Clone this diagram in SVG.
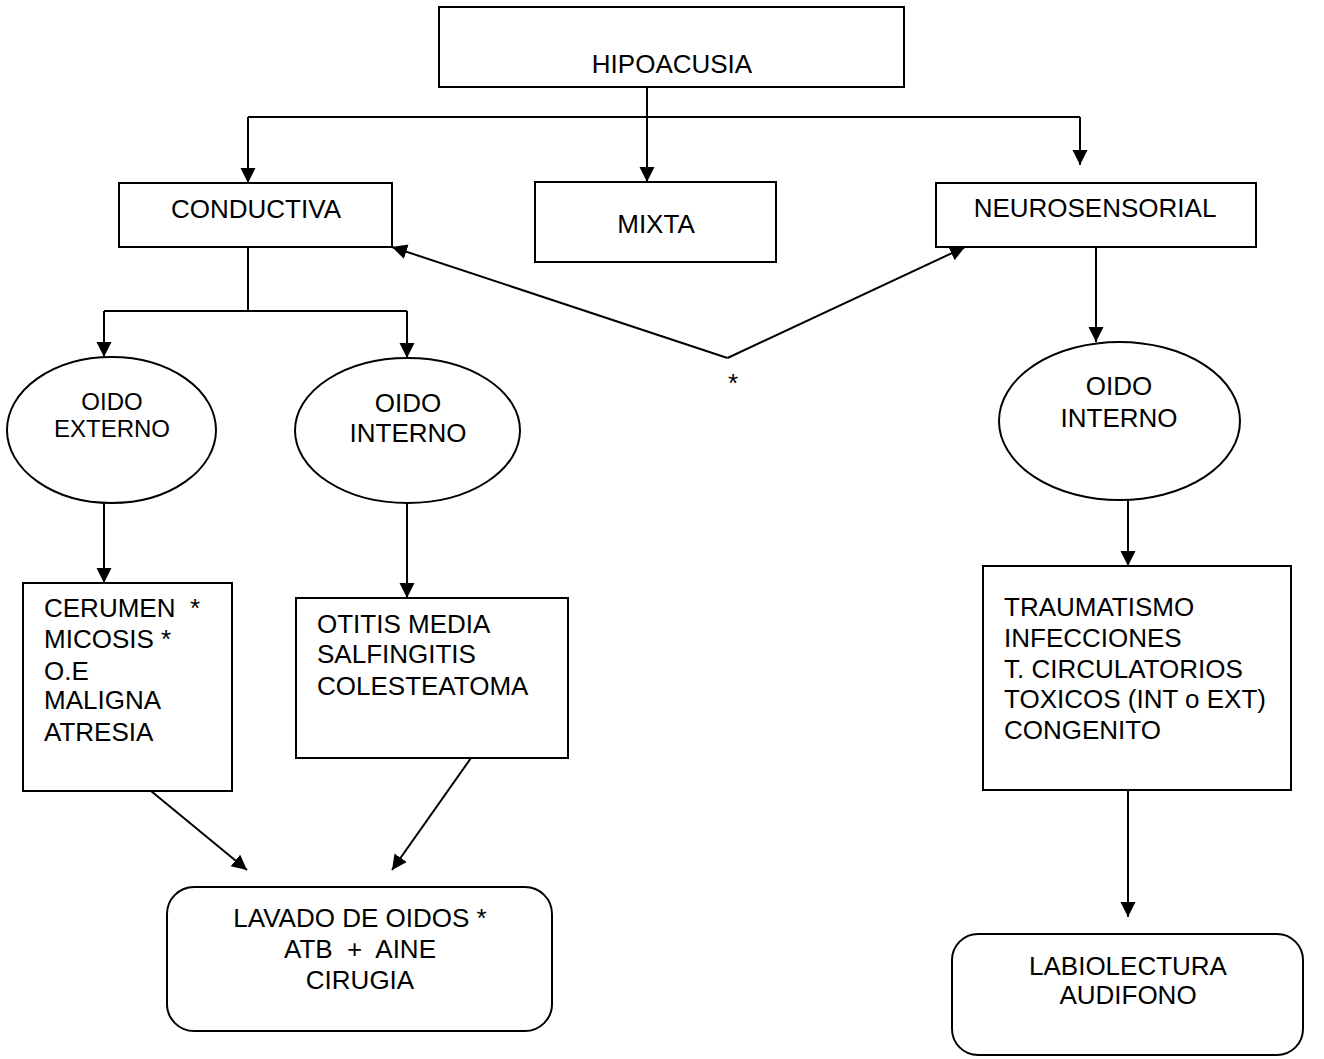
<svg xmlns="http://www.w3.org/2000/svg" width="1324" height="1059" viewBox="0 0 1324 1059">
  <defs>
    <marker id="arrow" markerUnits="userSpaceOnUse" markerWidth="16" markerHeight="16" refX="15" refY="7.5" orient="auto">
      <path d="M0,0 L15,7.5 L0,15 Z" fill="#000"/>
    </marker>
    <style>
      .box { fill: #fff; stroke: #000; stroke-width: 2; }
      .lbl { font-family: "Liberation Sans", Arial, sans-serif; font-size: 26px; fill: #000; white-space: pre; }
      .sm { font-size: 24px; }
      .mid { text-anchor: middle; }
      .wire { fill: none; stroke: #000; stroke-width: 2; }
      .arr { marker-end: url(#arrow); }
    </style>
  </defs>
  <rect width="1324" height="1059" fill="#fff"/>

  <!-- connectors -->
  <g id="connectors">
    <path class="wire arr" d="M647,87 V182"/>
    <path class="wire" d="M248,117 H1080"/>
    <path class="wire arr" d="M248,117 V183"/>
    <path class="wire arr" d="M1080,117 V165"/>
    <path class="wire" d="M248,247 V311 M104,311 H407"/>
    <path class="wire arr" d="M104,311 V357"/>
    <path class="wire arr" d="M407,311 V358"/>
    <path class="wire arr" d="M727.5,358 L392,247"/>
    <path class="wire arr" d="M727.5,358 L965,247"/>
    <path class="wire arr" d="M104,503 V583"/>
    <path class="wire arr" d="M407,503 V598"/>
    <path class="wire arr" d="M151,791 L247,870"/>
    <path class="wire arr" d="M471,758 L392,870"/>
    <path class="wire arr" d="M1096,247 V342"/>
    <path class="wire arr" d="M1128,500 V566"/>
    <path class="wire arr" d="M1128,790 V917"/>
  </g>
  <text class="lbl mid" x="733" y="392">*</text>

  <g id="hipoacusia">
    <rect class="box" x="439" y="7" width="465" height="80"/>
    <text class="lbl mid" x="672" y="73">HIPOACUSIA</text>
  </g>

  <g id="conductiva">
    <rect class="box" x="119" y="183" width="273" height="64"/>
    <text class="lbl mid" x="256" y="218">CONDUCTIVA</text>
  </g>

  <g id="mixta">
    <rect class="box" x="535" y="182" width="241" height="80"/>
    <text class="lbl mid" x="656" y="233">MIXTA</text>
  </g>

  <g id="neurosensorial">
    <rect class="box" x="936" y="183" width="320" height="64"/>
    <text class="lbl mid" x="1095" y="217">NEUROSENSORIAL</text>
  </g>

  <g id="oido-externo">
    <ellipse class="box" cx="111.5" cy="430" rx="104.5" ry="73"/>
    <text class="lbl sm mid" x="112" y="410">OIDO</text>
    <text class="lbl sm mid" x="112" y="437">EXTERNO</text>
  </g>

  <g id="oido-interno-c">
    <ellipse class="box" cx="407.5" cy="430.5" rx="112.5" ry="72.5"/>
    <text class="lbl mid" x="408" y="412">OIDO</text>
    <text class="lbl mid" x="408" y="442">INTERNO</text>
  </g>

  <g id="oido-interno-n">
    <ellipse class="box" cx="1119.5" cy="421" rx="120.5" ry="79"/>
    <text class="lbl mid" x="1119" y="395">OIDO</text>
    <text class="lbl mid" x="1119" y="427">INTERNO</text>
  </g>

  <g id="causas-externo">
    <rect class="box" x="23" y="583" width="209" height="208"/>
    <text class="lbl" x="44" y="617">CERUMEN  *</text>
    <text class="lbl" x="44" y="648">MICOSIS *</text>
    <text class="lbl" x="44" y="680">O.E</text>
    <text class="lbl" x="44" y="709">MALIGNA</text>
    <text class="lbl" x="44" y="741">ATRESIA</text>
  </g>

  <g id="causas-interno">
    <rect class="box" x="296" y="598" width="272" height="160"/>
    <text class="lbl" x="317" y="633">OTITIS MEDIA</text>
    <text class="lbl" x="317" y="663">SALFINGITIS</text>
    <text class="lbl" x="317" y="695">COLESTEATOMA</text>
  </g>

  <g id="causas-neuro">
    <rect class="box" x="983" y="566" width="308" height="224"/>
    <text class="lbl" x="1004" y="616">TRAUMATISMO</text>
    <text class="lbl" x="1004" y="647">INFECCIONES</text>
    <text class="lbl" x="1004" y="678">T. CIRCULATORIOS</text>
    <text class="lbl" x="1004" y="708">TOXICOS (INT o EXT)</text>
    <text class="lbl" x="1004" y="739">CONGENITO</text>
  </g>

  <g id="tratamiento-conductiva">
    <rect class="box" x="167" y="887" width="385" height="144" rx="27" ry="27"/>
    <text class="lbl mid" x="360" y="927">LAVADO DE OIDOS *</text>
    <text class="lbl mid" x="360" y="958">ATB  +  AINE</text>
    <text class="lbl mid" x="360" y="989">CIRUGIA</text>
  </g>

  <g id="tratamiento-neuro">
    <rect class="box" x="952" y="934" width="351" height="121" rx="26" ry="26"/>
    <text class="lbl mid" x="1128" y="975">LABIOLECTURA</text>
    <text class="lbl mid" x="1128" y="1004">AUDIFONO</text>
  </g>
</svg>
